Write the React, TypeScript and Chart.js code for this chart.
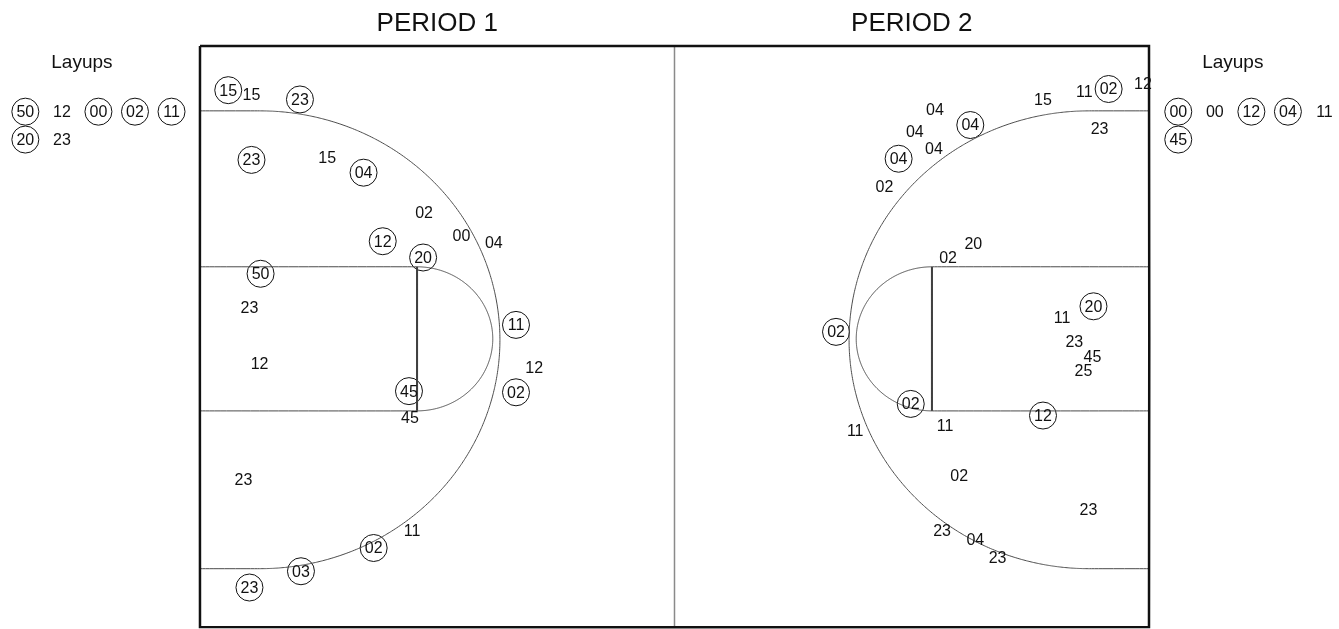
import React, { useEffect, useRef } from "react";
import { Chart, registerables } from "chart.js";

Chart.register(...registerables);

// ---------- DATA (court coordinates in feet: x 0..94 baseline to baseline, y 0..50 top to bottom) ----------
const periodTitles = ["PERIOD 1", "PERIOD 2"];

// Period 1 shots
const p1X = [2.8, 5.1, 9.9, 5.1, 12.6, 16.2, 22.2, 18.1, 25.9, 29.1, 22.1, 6.0, 4.9, 5.9, 31.3, 33.1, 31.3, 20.7, 20.8, 4.3, 21.0, 17.2, 10.0, 4.9];
const p1Y = [3.8, 4.2, 4.6, 9.8, 9.6, 10.9, 14.3, 16.8, 16.3, 16.9, 18.2, 19.6, 22.5, 27.3, 24.0, 27.7, 29.8, 29.7, 32.0, 37.3, 41.7, 43.2, 45.2, 46.6];
const p1Player = ["15", "15", "23", "23", "15", "04", "02", "12", "00", "04", "20", "50", "23", "12", "11", "12", "02", "45", "45", "23", "11", "02", "03", "23"];
const p1Made = [1, 0, 1, 1, 0, 1, 0, 1, 0, 0, 1, 1, 0, 0, 1, 0, 1, 1, 0, 0, 0, 1, 1, 1];

// Period 2 shots
const p2X = [72.8, 76.3, 70.8, 72.7, 69.2, 67.8, 83.5, 87.6, 90.0, 93.4, 89.1, 76.6, 74.1, 63.0, 70.4, 73.8, 64.9, 83.5, 88.5, 85.4, 86.6, 88.4, 87.5, 75.2, 88.0, 73.5, 76.8, 79.0];
const p2Y = [5.5, 6.8, 7.4, 8.8, 9.7, 12.1, 4.6, 3.9, 3.7, 3.2, 7.1, 17.0, 18.2, 24.6, 30.8, 32.7, 33.1, 31.8, 22.4, 23.4, 25.4, 26.7, 27.9, 37.0, 39.9, 41.7, 42.5, 44.0];
const p2Player = ["04", "04", "04", "04", "04", "02", "15", "11", "02", "12", "23", "20", "02", "02", "02", "11", "11", "12", "20", "11", "23", "45", "25", "02", "23", "23", "04", "23"];
const p2Made = [0, 1, 0, 0, 1, 0, 0, 0, 1, 0, 0, 0, 0, 1, 1, 0, 0, 1, 1, 0, 0, 0, 0, 0, 0, 0, 0, 0];

// Layups (listed beside the court)
const layup1Player = ["50", "12", "00", "02", "11", "20", "23"];
const layup1Made = [1, 0, 1, 1, 1, 1, 0];
const layup2Player = ["00", "00", "12", "04", "11", "45"];
const layup2Made = [1, 0, 1, 1, 0, 1];
const layupHeader = "Layups";

// ---------- COURT GEOMETRY (feet) ----------
const COURT_LEN = 94;
const COURT_WID = 50;
const ARC_CY = 25.28;
const ARC_CX = 5.94;
const ARC_RX = 23.77;
const ARC_RY = 19.7;
const LANE_LEN = 21.5;
const LANE_Y1 = 19.0;
const LANE_Y2 = 31.4;
const FT_RX = 7.5;
const LANE_CY = (LANE_Y1 + LANE_Y2) / 2;
const FT_RY = (LANE_Y2 - LANE_Y1) / 2;

// visible window around the court (feet)
const X_MIN = -19.81;
const X_MAX = 112.82;
const Y_MIN = -3.96;
const Y_MAX = 50.17;

// text / list layout (feet)
const TITLE_Y = -1.94;
const HEADER_Y = 1.45;
const HEADER_LEFT_X = -11.7;
const HEADER_RIGHT_X = 102.3;
const LAYUP_LEFT_X0 = -17.3;
const LAYUP_RIGHT_X0 = 96.9;
const LAYUP_STEP_X = 3.62;
const LAYUP_ROW_Y0 = 5.65;
const LAYUP_STEP_Y = 2.4;
const LAYUP_PER_ROW = 5;

type P = { x: number; y: number };

function arc(cx: number, cy: number, rx: number, ry: number, a0: number, a1: number, n = 120): P[] {
  const pts: P[] = [];
  for (let i = 0; i <= n; i++) {
    const t = a0 + ((a1 - a0) * i) / n;
    pts.push({ x: cx + rx * Math.cos(t), y: cy + ry * Math.sin(t) });
  }
  return pts;
}

function mirror(pts: P[]): P[] {
  return pts.map((p) => ({ x: COURT_LEN - p.x, y: p.y }));
}

function threePoint(): P[] {
  return [
    { x: 0, y: ARC_CY - ARC_RY },
    ...arc(ARC_CX, ARC_CY, ARC_RX, ARC_RY, -Math.PI / 2, Math.PI / 2),
    { x: 0, y: ARC_CY + ARC_RY },
  ];
}

function laneBox(): P[] {
  return [
    { x: 0, y: LANE_Y1 },
    { x: LANE_LEN, y: LANE_Y1 },
    { x: LANE_LEN, y: LANE_Y2 },
    { x: 0, y: LANE_Y2 },
  ];
}

function ftCircle(): P[] {
  return arc(LANE_LEN, LANE_CY, FT_RX, FT_RY, -Math.PI / 2, Math.PI / 2);
}

function ftLine(): P[] {
  return [
    { x: LANE_LEN, y: LANE_Y1 },
    { x: LANE_LEN, y: LANE_Y2 },
  ];
}

function border(): P[] {
  return [
    { x: 0, y: 0 },
    { x: COURT_LEN, y: 0 },
    { x: COURT_LEN, y: COURT_WID },
    { x: 0, y: COURT_WID },
    { x: 0, y: 0 },
  ];
}

function shots(xs: number[], ys: number[]): P[] {
  return xs.map((x, i) => ({ x, y: ys[i] }));
}

function layupPts(players: string[], x0: number): P[] {
  return players.map((_, i) => ({
    x: x0 + (i % LAYUP_PER_ROW) * LAYUP_STEP_X,
    y: LAYUP_ROW_Y0 + Math.floor(i / LAYUP_PER_ROW) * LAYUP_STEP_Y,
  }));
}

const LINE = "#4a4a4a";
const FONT_FAMILY = "'Liberation Sans', Arial, sans-serif";

function lineDs(data: P[], color = LINE, width = 1) {
  return {
    type: "line" as const,
    data,
    showLine: true,
    borderColor: color,
    borderWidth: width,
    pointRadius: 0,
    fill: false,
    tension: 0.001,
    borderJoinStyle: "miter",
    clip: false as any,
  };
}

function shotDs(pts: P[], players: string[], made: number[]) {
  return {
    type: "scatter" as const,
    data: pts,
    labels: players,
    pointRadius: made.map((m) => (m ? 13.5 : 0)),
    pointHoverRadius: made.map((m) => (m ? 13.5 : 0)),
    pointStyle: "circle",
    borderColor: "#111",
    borderWidth: 1,
    backgroundColor: "rgba(0,0,0,0)",
    clip: false as any,
  };
}

const labelPlugin = {
  id: "shotLabels",
  afterDatasetsDraw(chart: any) {
    const ctx = chart.ctx as CanvasRenderingContext2D;
    const xs = chart.scales.x;
    const ys = chart.scales.y;
    ctx.save();
    ctx.fillStyle = "#111";
    ctx.textAlign = "center";
    ctx.textBaseline = "middle";
    ctx.font = `16px ${FONT_FAMILY}`;
    chart.data.datasets.forEach((ds: any, i: number) => {
      if (!ds.labels) return;
      const meta = chart.getDatasetMeta(i);
      meta.data.forEach((el: any, j: number) => {
        ctx.fillText(ds.labels[j], el.x, el.y + 1);
      });
    });
    // Layups headers
    ctx.font = `19px ${FONT_FAMILY}`;
    ctx.fillText(layupHeader, xs.getPixelForValue(HEADER_LEFT_X), ys.getPixelForValue(HEADER_Y));
    ctx.fillText(layupHeader, xs.getPixelForValue(HEADER_RIGHT_X), ys.getPixelForValue(HEADER_Y));
    // Period titles
    ctx.font = `26px ${FONT_FAMILY}`;
    ctx.fillText(periodTitles[0], xs.getPixelForValue(COURT_LEN / 4), ys.getPixelForValue(TITLE_Y));
    ctx.fillText(periodTitles[1], xs.getPixelForValue((3 * COURT_LEN) / 4), ys.getPixelForValue(TITLE_Y));
    ctx.restore();
  },
};

export default function App() {
  const ref = useRef<HTMLCanvasElement | null>(null);

  useEffect(() => {
    if (!ref.current) return;
    const datasets: any[] = [
      lineDs(border(), "#111", 2.5),
      lineDs([{ x: COURT_LEN / 2, y: 0 }, { x: COURT_LEN / 2, y: COURT_WID }], "#8a8a8a", 1.5),
      lineDs(threePoint()),
      lineDs(mirror(threePoint())),
      lineDs(laneBox()),
      lineDs(mirror(laneBox())),
      lineDs(ftCircle()),
      lineDs(mirror(ftCircle())),
      lineDs(ftLine(), "#333", 2),
      lineDs(mirror(ftLine()), "#333", 2),
      shotDs(shots(p1X, p1Y), p1Player, p1Made),
      shotDs(shots(p2X, p2Y), p2Player, p2Made),
      shotDs(layupPts(layup1Player, LAYUP_LEFT_X0), layup1Player, layup1Made),
      shotDs(layupPts(layup2Player, LAYUP_RIGHT_X0), layup2Player, layup2Made),
    ];
    const chart = new Chart(ref.current, {
      type: "scatter",
      data: { datasets },
      options: {
        animation: false,
        responsive: false,
        maintainAspectRatio: false,
        devicePixelRatio: 1,
        layout: { padding: 0, autoPadding: false },
        plugins: { legend: { display: false }, tooltip: { enabled: false }, title: { display: false } },
        events: [],
        scales: {
          x: { type: "linear", min: X_MIN, max: X_MAX, display: false },
          y: { type: "linear", min: Y_MIN, max: Y_MAX, reverse: true, display: false },
        },
      },
      plugins: [labelPlugin],
    });
    return () => chart.destroy();
  }, []);

  return (
    <div style={{ position: "fixed", left: 0, top: 0, width: 1339, height: 629, background: "#fff" }}>
      <canvas ref={ref} width={1339} height={629} style={{ display: "block", width: 1339, height: 629 }} />
    </div>
  );
}
